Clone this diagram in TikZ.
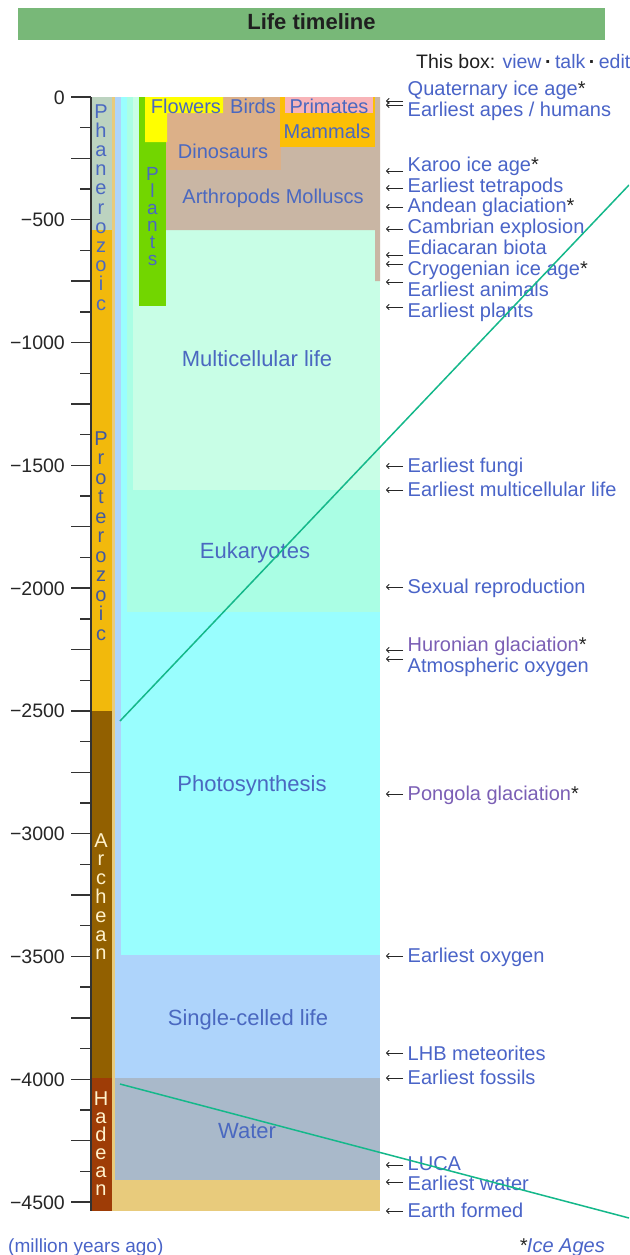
\documentclass[tikz,border=0pt]{standalone}
\usepackage{fontspec}
\setmainfont{Liberation Sans}
\usetikzlibrary{arrows.meta}
\definecolor{titlegreen}{HTML}{78B878}
\definecolor{lb}{HTML}{4A64C8}
\definecolor{vis}{HTML}{7B5FB5}
\definecolor{regblue}{HTML}{4A68C0}
\definecolor{cEarth}{HTML}{E8CB7C}
\definecolor{cWater}{HTML}{A9B9CA}
\definecolor{cSingle}{HTML}{AED4FB}
\definecolor{cPhoto}{HTML}{99FEFE}
\definecolor{cEuk}{HTML}{AAFEE4}
\definecolor{cMulti}{HTML}{C8FEE6}
\definecolor{cPlants}{HTML}{72D600}
\definecolor{cArth}{HTML}{C9B6A4}
\definecolor{cDino}{HTML}{DCB088}
\definecolor{cMamm}{HTML}{FCBF06}
\definecolor{cPrim}{HTML}{F8B4B8}
\definecolor{cFlow}{HTML}{FFFF00}
\definecolor{cPhan}{HTML}{BCD3C0}
\definecolor{cProt}{HTML}{F2B90C}
\definecolor{cArch}{HTML}{926000}
\definecolor{cHad}{HTML}{9E3C06}
\definecolor{cream}{HTML}{FFF2CC}
\definecolor{glinec}{HTML}{14B88A}
\newcommand\astk{{\color{black!85}*}}
\begin{document}
\begin{tikzpicture}[x=1pt,y=-1pt,
  tick/.style={draw=black!80,line width=1.4pt},
  axlab/.style={inner sep=0pt,anchor=base east,font=\fontsize{19.5}{22}\selectfont,text=black!85},
  evlab/.style={inner sep=0pt,anchor=base west,font=\fontsize{20}{22}\selectfont},
  evarrow/.style={draw=black!85,line width=1pt,-{To[length=3.5pt,width=6pt]}},
  reglab/.style={inner sep=0pt,anchor=base,font=\fontsize{22}{24}\selectfont,text=regblue},
  toplab/.style={inner sep=0pt,anchor=base,font=\fontsize{20}{22}\selectfont,text=regblue},
  eonlet/.style={inner sep=0pt,anchor=base,font=\fontsize{20}{22}\selectfont},
  plantlet/.style={inner sep=0pt,anchor=base,font=\fontsize{19}{21}\selectfont,text=regblue},
  gline/.style={draw=glinec,line width=1.5pt}]
\useasboundingbox (0,0) rectangle (629,1255);
\fill[white] (0,0) rectangle (629,1255);
\begin{scope}
\clip (0,0) rectangle (629,1255);
% title
\fill[titlegreen] (18,8) rectangle (605,40);
\node[inner sep=0pt,anchor=base,font=\fontsize{22}{24}\selectfont\bfseries,text=black!88] (title) at (311.5,30) {Life timeline};
\node[inner sep=0pt,anchor=base west,font=\fontsize{19.5}{22}\selectfont,text=black!88] (thisbox) at (416,69)
  {This box: {\color{lb}view}\hspace{3.5pt}{\bfseries\textperiodcentered}\hspace{3.5pt}{\color{lb}talk}\hspace{3.5pt}{\bfseries\textperiodcentered}\hspace{3.5pt}{\color{lb}edit}};
% life blocks
\fill[cEarth] (112,97) rectangle (380,1211);
\fill[cWater] (115,97) rectangle (380,1180);
\fill[cSingle] (115,97) rectangle (380,1078);
\fill[cPhoto] (121,97) rectangle (380,955);
\fill[cEuk] (127,97) rectangle (380,612);
\fill[cMulti] (133,97) rectangle (380,490);
\fill[cPlants] (139,97) rectangle (166,306);
\fill[cArth] (166,97) -- (380,97) -- (380,281) -- (375,281) -- (375,230) -- (166,230) -- cycle;
\fill[cDino] (166,97) rectangle (281,170);
\fill[cMamm] (280,97) rectangle (375,147);
\fill[cPrim] (285,97) rectangle (373,113);
\fill[cFlow] (145,97) -- (223,97) -- (223,113) -- (167,113) -- (167,142) -- (145,142) -- cycle;
% eon band
\fill[cPhan] (91,97) rectangle (111.5,230);
\fill[cProt] (91,230) rectangle (111.5,711);
\fill[cArch] (91,711) rectangle (111.5,1078);
\fill[cHad] (91,1078) rectangle (111.5,1211);
\draw[draw=black!80,line width=1.4pt] (91,97) -- (91,1211);
% ticks
\foreach \i in {0,...,36}{
  \pgfmathsetmacro\yy{97+1105/36*\i}
  \pgfmathtruncatemacro\m{mod(\i,2)}
  \ifnum\m=0 \coordinate (tA\i) at (71,\yy); \else \coordinate (tA\i) at (80,\yy); \fi
  \coordinate (tB\i) at (91,\yy);
  \draw[tick] (tA\i) -- (tB\i);
}
\foreach \i in {0,...,9}{
  \pgfmathsetmacro\yy{97+1105/9*\i}
  \pgfmathtruncatemacro\v{500*\i}
  \node[axlab] (ax\i) at (65,\yy+7) {\ifnum\v=0 0\else −\v\fi};
}
% eon letters
\foreach \l [count=\i] in {P,h,a,n,e,r,o,z,o,i,c}
  \node[eonlet,text=regblue] (ph\i) at (101,{118+19.2*(\i-1)}) {\l};
\foreach \l [count=\i] in {P,r,o,t,e,r,o,z,o,i,c}
  \node[eonlet,text=regblue!85!black] (pr\i) at (101,{445+19.5*(\i-1)}) {\l};
\foreach \l [count=\i] in {A,r,c,h,e,a,n}
  \node[eonlet,text=cream] (ar\i) at (101,{847+18.8*(\i-1)}) {\l};
\foreach \l [count=\i] in {H,a,d,e,a,n}
  \node[eonlet,text=cream] (ha\i) at (101,{1105+18*(\i-1)}) {\l};
\foreach \l [count=\i] in {P,l,a,n,t,s}
  \node[plantlet] (pl\i) at (152.5,{180+17*(\i-1)}) {\l};
% top labels
\node[toplab] (flowers) at (186,113) {Flowers};
\node[toplab] (birds) at (253,113) {Birds};
\node[toplab] (primates) at (329,113) {Primates};
\node[toplab] (mammals) at (327,138) {Mammals};
\node[toplab] (dinos) at (223,158) {Dinosaurs};
\node[toplab] (arth) at (273,203) {Arthropods Molluscs};
% region labels
\node[reglab] (multi) at (257,366) {Multicellular life};
\node[reglab] (euk) at (255,558) {Eukaryotes};
\node[reglab] (photo) at (252,791) {Photosynthesis};
\node[reglab] (single) at (248,1025) {Single-celled life};
\node[reglab] (water) at (247,1138) {Water};
% events
\foreach \ty/\ay/\txt/\col [count=\k] in {
  88/101/{Quaternary ice age\astk}/lb,
  109/105/{Earliest apes / humans}/lb,
  164/171/{Karoo ice age\astk}/lb,
  185/188/{Earliest tetrapods}/lb,
  205/207/{Andean glaciation\astk}/lb,
  226/229/{Cambrian explosion}/lb,
  247/255/{Ediacaran biota}/lb,
  268/264/{Cryogenian ice age\astk}/lb,
  289/282/{Earliest animals}/lb,
  310/307/{Earliest plants}/lb,
  465/466/{Earliest fungi}/lb,
  489/490/{Earliest multicellular life}/lb,
  586/587/{Sexual reproduction}/lb,
  644/650/{Huronian glaciation\astk}/vis,
  665/659/{Atmospheric oxygen}/lb,
  793/794/{Pongola glaciation\astk}/vis,
  955/956/{Earliest oxygen}/lb,
  1053/1053/{LHB meteorites}/lb,
  1077/1078/{Earliest fossils}/lb,
  1163/1165/{LUCA}/lb,
  1183/1182/{Earliest water}/lb,
  1210/1211/{Earth formed}/lb}{
  \node[evlab,text=\col] (ev\k) at (407.5,\ty+7) {\txt};
  \coordinate (as\k) at (403,\ay);
  \coordinate (ae\k) at (386,\ay);
  \draw[evarrow] (as\k) -- (ae\k);
}
% bottom texts
\node[inner sep=0pt,anchor=base west,font=\fontsize{19}{21}\selectfont,text=lb] (mya) at (8,1252) {(million years ago)};
\node[inner sep=0pt,anchor=base east,font=\fontsize{20}{22}\selectfont\itshape,text=lb] (iceages) at (605,1252) {\astk Ice Ages};
% green lines
\coordinate (g1a) at (120,721);
\coordinate (g1b) at (629,185);
\draw[gline] (g1a) -- (g1b);
\coordinate (g2a) at (120,1084);
\coordinate (g2b) at (629,1218);
\draw[gline] (g2a) -- (g2b);
\end{scope}
\end{tikzpicture}
\end{document}
